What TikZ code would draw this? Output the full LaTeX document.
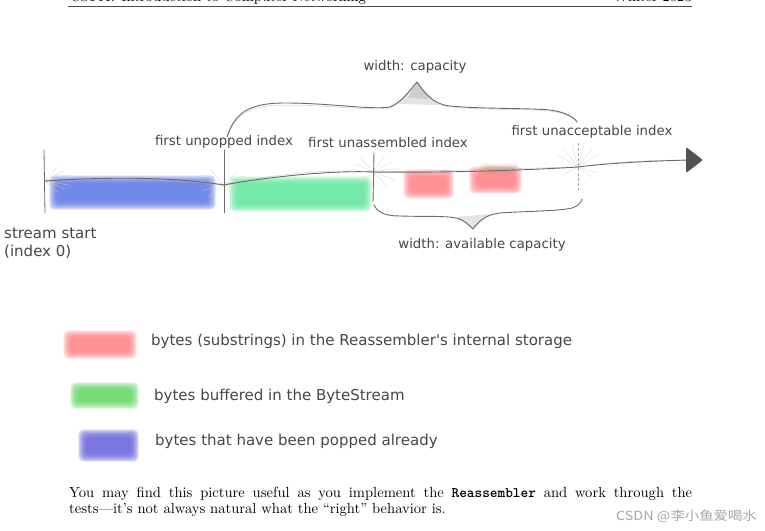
\documentclass[tikz,border=0pt]{standalone}
\usepackage{fontspec}
\newfontfamily\djv{DejaVu Sans}
\newfontfamily\cjk{Noto Sans CJK SC}
\newfontfamily\bodyrm{lmroman10-regular.otf}
\newfontfamily\bodytt{lmmonolt10-bold.otf}
\definecolor{bblue}{RGB}{92,122,232}
\definecolor{bgreen}{RGB}{96,232,156}
\definecolor{bred}{RGB}{255,128,134}
\definecolor{lgreen}{RGB}{100,215,100}
\definecolor{lblue}{RGB}{105,100,222}
\definecolor{bbrown}{RGB}{165,125,70}
\newcommand\blurblob[5]{%
  \foreach \k in {0,...,7}{%
    \fill[#5, opacity=0.22, rounded corners=5]
      ({#1-(7-\k)*1.1},{#2-(7-\k)*1.1}) rectangle ({#3+(7-\k)*1.1},{#4+(7-\k)*1.1});
  }}
\begin{document}
\begin{tikzpicture}[x=1pt,y=-1pt,
  lbl/.style={font=\djv\fontsize{13.3}{15}\selectfont, text=black!72, inner sep=0pt},
  lgd/.style={font=\djv\fontsize{15}{18}\selectfont, text=black!72, inner sep=0pt, anchor=west},
  sk/.style={draw=black!58, line width=0.9pt, line cap=round, line join=round},
  skf/.style={draw=black!30, line width=0.5pt, opacity=0.6, line cap=round},
  fan/.style={draw=black!18, line width=0.35pt, opacity=0.8},
  body/.style={font=\bodyrm\fontsize{14.6}{16}\selectfont, inner sep=0pt},
]
\useasboundingbox (0,0) rectangle (765,530);
\fill[white] (0,0) rectangle (765,530);

% header (cut off at the top)
\node[body, anchor=base west] (hdl) at (70,1.5) {CS144: Introduction to Computer Networking};
\node[body, anchor=base east] (hdr) at (692,1.5) {Winter 2023};
\coordinate (rl) at (68,6.8);
\coordinate (rr) at (692,6.8);
\draw[line width=0.8pt, black!70] (rl) -- (rr);

% coloured blobs in the stream
\blurblob{57}{183}{208}{202}{bblue}
\blurblob{237}{184}{364}{204}{bgreen}
\blurblob{411}{177}{446}{191}{bred}
\blurblob{477}{174}{514}{186}{bred}
\fill[bbrown, opacity=0.2, rounded corners=3] (484,166) rectangle (514,172);
\fill[bbrown, opacity=0.15, rounded corners=3] (480,164) rectangle (518,174);

% coordinates of the stream axis
\coordinate (s0) at (45,181);
\coordinate (i1) at (224,185);
\coordinate (i2) at (373,172);
\coordinate (i3) at (578,167);
\coordinate (tip) at (690,160);

% sketchy fans at the ticks
\foreach \dx/\dy in {12/-14,18/-10,22/-6,14/12,20/8,24/4}{
  \draw[fan] (s0) -- ++(\dx,\dy);}
\foreach \dx/\dy in {-14/-16,-20/-10,-24/-4,14/-14,20/-9,26/-4,-16/12,-22/6,16/12,22/6}{
  \draw[fan] (i1) -- ++(\dx,\dy);}
\foreach \dx/\dy in {-12/-14,-18/-8,12/-16,18/-10,26/-4,-14/12,14/14,22/8}{
  \draw[fan] (i2) -- ++(\dx,\dy);}
\foreach \dx/\dy in {-20/-12,-14/-18,-6/-22,6/-22,14/-18,20/-12,-16/8,14/10,20/6}{
  \draw[fan] (i3) -- ++(\dx,\dy);}

% stream axis
\draw[skf] (s0) .. controls (120,178) and (180,180) .. (i1)
  .. controls (260,176) and (330,168) .. (i2)
  .. controls (450,171) and (530,168) .. (i3)
  .. controls (610,162) and (650,160) .. (tip);
\draw[sk] (s0) .. controls (120,176) and (180,178) .. (i1)
  .. controls (260,178) and (330,170) .. (i2)
  .. controls (450,173) and (530,170) .. (i3)
  .. controls (610,163) and (650,161) .. (tip);
\fill[black!68, rounded corners=1.5] (686,147) -- (703,160) -- (686,173) -- cycle;

% ticks
\coordinate (t0a) at (44,150); \coordinate (t0b) at (45,213);
\coordinate (t1a) at (224,150); \coordinate (t1b) at (224,213);
\coordinate (t2a) at (374,153); \coordinate (t2b) at (373,202);
\coordinate (t3a) at (578,143); \coordinate (t3b) at (578,190);
\draw[sk, line width=0.8pt] (t0a) -- (t0b);
\draw[sk] (t1a) -- (t1b);
\draw[sk] (t2a) -- (t2b);
\draw[draw=black!35, line width=0.7pt, dash pattern=on 3pt off 2pt] (t3a) -- (t3b);

% top brace: capacity
\coordinate (cb0) at (227,137);
\coordinate (cbp) at (417,82);
\coordinate (cb1) at (577,122);
\fill[black!30, opacity=0.35] (398,104) -- (cbp) -- (438,105) -- cycle;
\fill[black!40, opacity=0.3] (408,98) -- (cbp) -- (428,99) -- cycle;
\draw[skf] (cb0) .. controls (236,114) and (250,105) .. (285,105)
  .. controls (330,105) and (370,111) .. (390,108)
  .. controls (402,103) and (410,91) .. (cbp)
  .. controls (424,93) and (432,105) .. (450,107)
  .. controls (480,110) and (530,109) .. (550,111)
  .. controls (565,113) and (574,118) .. (cb1);
\draw[sk] (cb0) .. controls (235,112) and (250,103) .. (285,103)
  .. controls (330,103) and (370,110) .. (390,107)
  .. controls (402,102) and (410,90) .. (cbp)
  .. controls (424,92) and (432,104) .. (450,106)
  .. controls (480,109) and (530,108) .. (550,110)
  .. controls (565,112) and (574,117) .. (cb1);

% bottom brace: available capacity
\coordinate (ab0) at (374,205);
\coordinate (abp) at (473,229);
\coordinate (ab1) at (582,199);
\fill[black!30, opacity=0.35] (456,217) -- (abp) -- (490,214) -- cycle;
\draw[sk] (ab0) .. controls (378,213) and (386,216) .. (400,216)
  .. controls (430,217) and (452,215) .. (462,220)
  .. controls (467,223) and (470,226) .. (abp)
  .. controls (478,222) and (484,215) .. (500,213)
  .. controls (530,211) and (560,211) .. (572,208)
  .. controls (578,206) and (581,203) .. (ab1);

% labels
\node[lbl] (lcap) at (415,67) {width: capacity};
\node[lbl] (lpop) at (224,142) {first unpopped index};
\node[lbl] (lasm) at (388,143) {first unassembled index};
\node[lbl] (lacc) at (592,132) {first unacceptable index};
\node[lbl] (lavl) at (482,245) {width: available capacity};
\node[lgd, anchor=base west] (lss) at (4,238) {stream start};
\node[lgd, anchor=base west] (lix) at (4,256) {(index 0)};

% legend
\blurblob{71}{338}{129}{351}{bred}
\blurblob{78}{390}{131}{401}{lgreen}
\blurblob{86}{437}{131}{454}{lblue}
\node[lgd] (g1) at (151,341) {bytes (substrings) in the Reassembler's internal storage};
\node[lgd] (g2) at (154,396) {bytes buffered in the ByteStream};
\node[lgd] (g3) at (155,441) {bytes that have been popped already};

% text below
\node[body, anchor=base west, text width=623pt, align=justify] (para) at (69,497)
  {You may find this picture useful as you implement the {\bodytt Reassembler} and work through the \mbox{tests—it’s} not always natural what the “right” behavior is.};

% watermark
\node[font=\cjk\fontsize{12.5}{14}\selectfont, text=black!35, anchor=base east, inner sep=0pt, xscale=1.15] (wm) at (757,520) {CSDN @李小鱼爱喝水};
\end{tikzpicture}
\end{document}
